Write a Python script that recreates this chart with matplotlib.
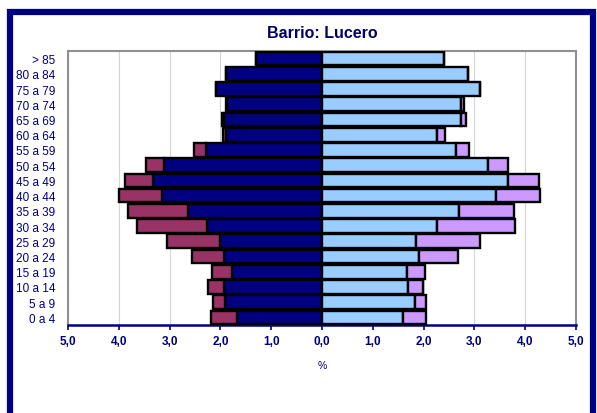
import matplotlib.pyplot as plt
import numpy as np
from matplotlib.patches import Rectangle

# age groups, youngest first (drawn bottom to top)
grupos = ['0 a 4', '5 a 9', '10 a 14', '15 a 19', '20 a 24', '25 a 29',
          '30 a 34', '35 a 39', '40 a 44', '45 a 49', '50 a 54', '55 a 59',
          '60 a 64', '65 a 69', '70 a 74', '75 a 79', '80 a 84', '> 85']

# left side (%): inner navy segment, outer maroon segment
izq_interior = [1.67, 1.91, 1.93, 1.77, 1.93, 2.01, 2.26, 2.63, 3.14, 3.32,
                3.12, 2.28, 1.88, 1.93, 1.87, 2.09, 1.89, 1.30]
izq_exterior = [0.52, 0.24, 0.31, 0.39, 0.62, 1.05, 1.39, 1.18, 0.86, 0.55,
                0.34, 0.24, 0.07, 0.04, 0.02, 0.00, 0.00, 0.00]

# right side (%): inner light blue segment, outer lilac segment
der_interior = [1.60, 1.83, 1.69, 1.67, 1.91, 1.86, 2.26, 2.70, 3.42, 3.67,
                3.26, 2.64, 2.27, 2.74, 2.73, 3.11, 2.87, 2.40]
der_exterior = [0.44, 0.21, 0.30, 0.36, 0.77, 1.25, 1.54, 1.07, 0.87, 0.60,
                0.41, 0.25, 0.16, 0.09, 0.07, 0.00, 0.00, 0.00]

navy = '#000080'
plt.rcParams['font.family'] = ['Liberation Sans', 'DejaVu Sans']

fig = plt.figure(figsize=(5.97, 4.14), dpi=100)
ax = fig.add_axes([68/597, 1-326/414, (576-68)/597, (326-52)/414])

y = np.arange(len(grupos))
ii = np.array(izq_interior)
ie = np.array(izq_exterior)
di = np.array(der_interior)
de = np.array(der_exterior)
h = 0.9
kw = dict(height=h, edgecolor='black', linewidth=1.7, zorder=3)

ax.barh(y, -ii, color=navy, **kw)
ax.barh(y, -ie, left=-ii, color='#993366', **kw)
ax.barh(y, di, color='#99CCFF', **kw)
ax.barh(y, de, left=di, color='#CC99FF', **kw)

ax.set_xlim(-5, 5)
ax.set_ylim(-0.5, len(grupos) - 0.5)
ticks = np.arange(-5, 6)
ax.set_xticks(ticks)
ax.set_xticklabels([f'{abs(t):.1f}'.replace('.', ',') for t in ticks],
                   fontsize=8.5, fontweight='bold', color=navy)
ax.set_yticks(y)
ax.set_yticklabels(grupos, fontsize=8.5, color=navy)
ax.tick_params(axis='y', length=0, pad=9)
ax.tick_params(axis='x', direction='out', length=3.5, width=1.2,
               color=navy, pad=4)
ax.xaxis.grid(True, color='#d4d4d4', linewidth=0.8, zorder=0)
ax.set_axisbelow(True)

for s in ['top', 'left', 'right']:
    ax.spines[s].set_color('#909090')
    ax.spines[s].set_linewidth(1.5)
ax.spines['bottom'].set_color(navy)
ax.spines['bottom'].set_linewidth(1.8)

ax.set_xlabel('%', fontsize=7.5, color=navy, labelpad=9)
fig.text(322/597, 1-33/414, 'Barrio: Lucero', ha='center', va='center',
         fontsize=11.5, fontweight='bold', color='#000066')

# outer frame
fig.patches.append(Rectangle((10/597, -0.05), (593-10)/597, 1.05-13/414,
                             transform=fig.transFigure, fill=False,
                             edgecolor=navy, linewidth=4.5))

fig.savefig('out.png', dpi=100)
